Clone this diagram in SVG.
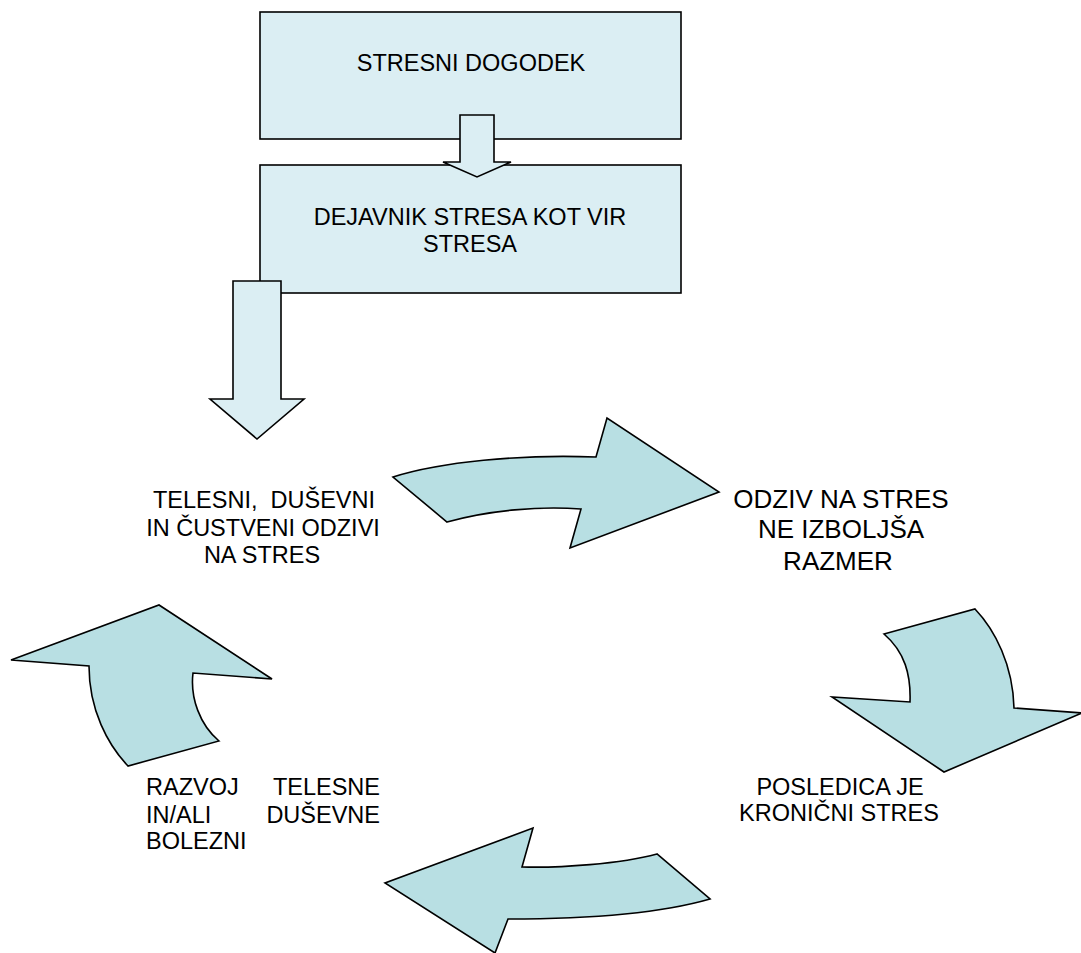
<svg xmlns="http://www.w3.org/2000/svg" width="1081" height="953" viewBox="0 0 1081 953">
<style>
.box{fill:#DBEEF3;stroke:#000;stroke-width:1.6}
.cyc{fill:#B8DFE3;stroke:#000;stroke-width:1.6;stroke-linejoin:miter}
.t{font-family:"Liberation Sans",Arial,sans-serif;font-size:23.5px;fill:#000;white-space:pre}
.c{text-anchor:middle}
.e{text-anchor:end}
</style>
<rect width="1081" height="953" fill="#fff"/>
<g id="n-stresni-dogodek">
<rect class="box" x="260" y="12" width="421" height="127"/>
<text class="t c" x="471" y="71">STRESNI DOGODEK</text>
</g>
<g id="n-dejavnik">
<rect class="box" x="260" y="165" width="421" height="128"/>
<text class="t c" x="470" y="225">DEJAVNIK STRESA KOT VIR</text>
<text class="t c" x="470" y="252">STRESA</text>
</g>
<g id="n-odzivi">
<text class="t c" x="264" y="508" xml:space="preserve">TELESNI,  DUŠEVNI</text>
<text class="t c" x="263" y="536">IN ČUSTVENI ODZIVI</text>
<text class="t c" x="262" y="563">NA STRES</text>
</g>
<g id="n-ne-izboljsa">
<text class="t c" x="841" y="508" style="font-size:26px">ODZIV NA STRES</text>
<text class="t c" x="841" y="538" style="font-size:26px">NE IZBOLJŠA</text>
<text class="t c" x="838" y="570" style="font-size:26px">RAZMER</text>
</g>
<g id="n-kronicni">
<text class="t c" x="840" y="795">POSLEDICA JE</text>
<text class="t c" x="839" y="821">KRONIČNI STRES</text>
</g>
<g id="n-bolezni">
<text class="t" x="146" y="795">RAZVOJ</text>
<text class="t e" x="380" y="795">TELESNE</text>
<text class="t" x="146" y="823">IN/ALI</text>
<text class="t e" x="380" y="823">DUŠEVNE</text>
<text class="t" x="146" y="849">BOLEZNI</text>
</g>
<g id="connectors">
<path class="box" d="M460,115 L494,115 L494,162 L511,162 L477,177 L443,162 L460,162 Z"/>
<path class="box" d="M233,281 L281,281 L281,399 L304,399 L257,439 L210,399 L233,399 Z"/>
<path class="cyc" d="M393,477 C440,462 520,454 596,457 L607,418 L719,492 L570,548 L581,509 C540,506 490,510 447,522 Z"/>
<path class="cyc" d="M884,634 L975,609 C995,630 1013,665 1014,708 L1082,713 L944,772 L832,697 L910,702 C911,675 905,652 884,634 Z"/>
<path class="cyc" d="M533,828 L522,867 C560,868 620,864 657,854 L710,899 C665,912 600,919 508,919 L495,953 L385,883 Z"/>
<path class="cyc" d="M11,660 L159,605 L272,679 L193,673 C190,698 200,725 219,741 L128,766 C108,745 89,710 89,666 Z"/>
</g>
</svg>
